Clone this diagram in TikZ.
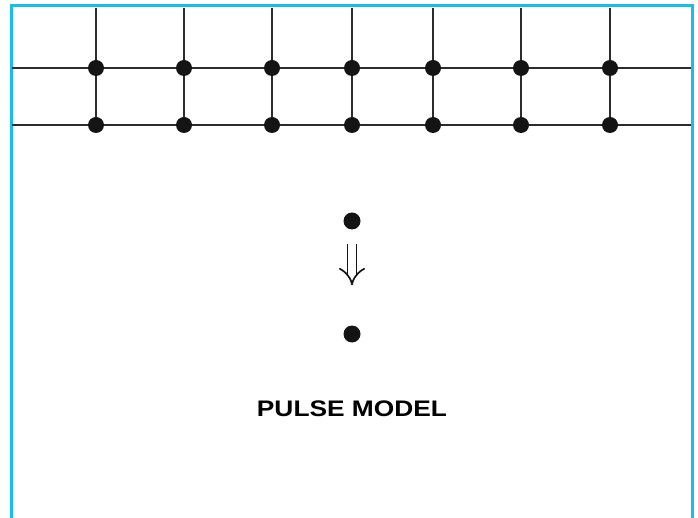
\documentclass[tikz,border=0pt]{standalone}
\usepackage{fontspec}
\setmainfont{Liberation Sans}
\usepackage{xcolor}
\usetikzlibrary{
  arrows.meta,
  positioning,
}
\definecolor{framecol}{RGB}{22,190,240}
\definecolor{inkcol}{RGB}{20,20,20}
\tikzset{
  latdot/.style={
    circle, fill=inkcol, draw=none,
    minimum size=16pt, inner sep=0pt
  },
  pulsedot/.style={latdot, minimum size=17pt},
  bondline/.style={line width=1.5pt, inkcol!90},
  framebar/.style={line width=3pt, framecol},
  pulsearrow/.style={
    double, double distance=7.5pt, line width=1.7pt, inkcol,
    -{Implies[length=10pt, width=24pt]},
    shorten <=14pt, shorten >=40pt
  },
  titletext/.style={font=\fontsize{22.5}{24}\selectfont\bfseries, xscale=1.17},
}

\begin{document}
\begin{tikzpicture}[x=1pt, y=-1pt]

  \useasboundingbox (0,0) rectangle (698,518);

  % ── Frame (open at the bottom) ──
  \draw[framebar] (11,520) -- (11,6) -- (692,6) -- (692,520);

  % ── Lattice ends ──
  \coordinate (Lup) at (12,68);
  \coordinate (Rup) at (691,68);
  \coordinate (Llo) at (12,125);
  \coordinate (Rlo) at (691,125);

  \draw[bondline] (Lup) -- (Rup);
  \draw[bondline] (Llo) -- (Rlo);

  % ── Lattice sites ──
  \foreach \xx [count=\i] in {96,184,272,352,433,521,610} {
    \coordinate (T\i) at (\xx,8);
    \draw[bondline] (T\i) -- (\xx,125);
    \node[latdot] (A\i) at (\xx,68) {};
    \node[latdot] (B\i) at (\xx,125) {};
  }

  % ── Single pulse ──
  \node[pulsedot] (P1) at (352,221) {};
  \node[pulsedot] (P2) at (352,334) {};
  \draw[pulsearrow] (P1) -- (P2);

  % ── Caption ──
  \node[titletext] (cap) at (352,409) {PULSE MODEL};

\end{tikzpicture}
\end{document}
